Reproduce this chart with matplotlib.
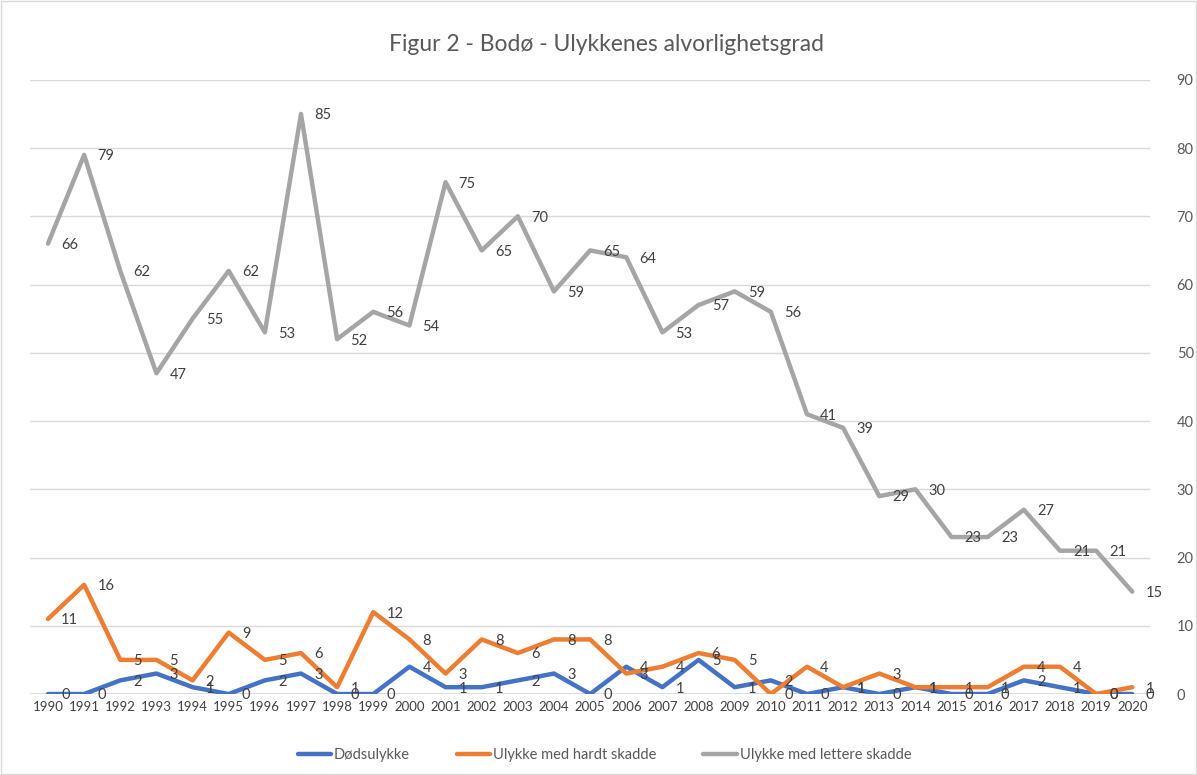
import matplotlib.pyplot as plt
from matplotlib.patches import Rectangle

plt.rcParams['font.family'] = ['Lato', 'DejaVu Sans']

years = list(range(1990, 2021))
dod = [0, 0, 2, 3, 1, 0, 2, 3, 0, 0, 4, 1, 1, 2, 3, 0, 4, 1, 5, 1, 2, 0, 1, 0, 1, 0, 0, 2, 1, 0, 0]
hardt = [11, 16, 5, 5, 2, 9, 5, 6, 1, 12, 8, 3, 8, 6, 8, 8, 3, 4, 6, 5, 0, 4, 1, 3, 1, 1, 1, 4, 4, 0, 1]
lettere = [66, 79, 62, 47, 55, 62, 53, 85, 52, 56, 54, 75, 65, 70, 59, 65, 64, 53, 57, 59, 56, 41, 39, 29, 30, 23, 23, 27, 21, 21, 15]

series = [
    ("Dødsulykke", dod, "#4472C4"),
    ("Ulykke med hardt skadde", hardt, "#ED7D31"),
    ("Ulykke med lettere skadde", lettere, "#A5A5A5"),
]

fig = plt.figure(figsize=(11.97, 7.75), dpi=100)
ax = fig.add_axes([0.025, 0.1045, 0.936, 0.7925])

for name, vals, col in series:
    ax.plot(years, vals, color=col, lw=3.2, label=name, solid_capstyle='round', zorder=3)
    for x, v in zip(years, vals):
        ax.annotate(str(v), (x, v), xytext=(9.5, -1), textcoords='offset points',
                    ha='left', va='center', fontsize=10.5, color='#404040', zorder=4)

ax.set_xlim(1989.5, 2020.5)
ax.set_ylim(0, 90)
ax.set_yticks(range(0, 91, 10))
ax.set_xticks(years)
ax.set_xticklabels([str(y) for y in years], fontsize=9.5, color='#404040')
ax.yaxis.tick_right()
ax.tick_params(axis='y', length=0, pad=19, labelsize=10.5, labelcolor='#595959')
ax.tick_params(axis='x', length=0, pad=5)
ax.grid(axis='y', color='#D9D9D9', lw=1)
for s in ax.spines.values():
    s.set_visible(False)
ax.axhline(0, color='#D9D9D9', lw=1.2, zorder=1)

fig.text(0.507, 0.942, "Figur 2 - Bodø - Ulykkenes alvorlighetsgrad",
         ha='center', va='center', fontsize=16.5, color='#595959')

fig.legend(loc='center', bbox_to_anchor=(0.505, 0.026), ncol=3, frameon=False,
           fontsize=10.5, handlelength=2.3, handletextpad=0.2, columnspacing=3.2,
           labelcolor='#595959')

fig.patches.append(Rectangle((0.001, 0.001), 0.998, 0.998, transform=fig.transFigure,
                             fill=False, edgecolor='#D9D9D9', lw=1))

fig.savefig("out.png", dpi=100)
